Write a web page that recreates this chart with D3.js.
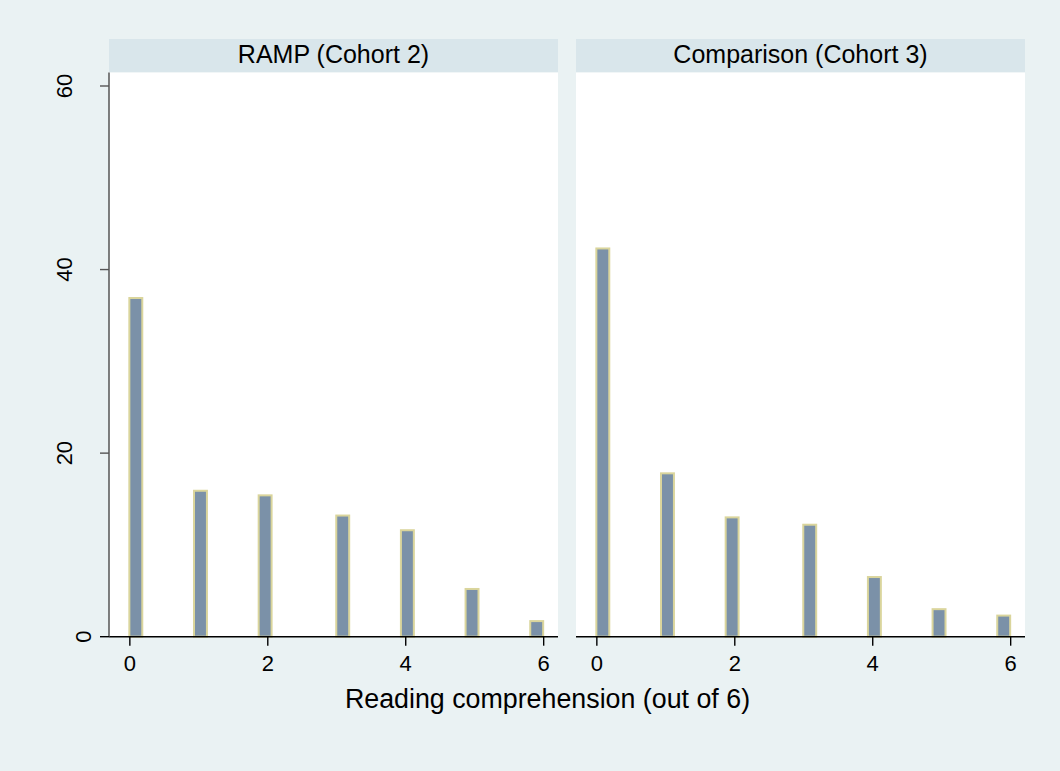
<!DOCTYPE html>
<html>
<head>
<meta charset="utf-8">
<script src="https://cdn.jsdelivr.net/npm/d3@7"></script>
<style>
  html, body { margin: 0; padding: 0; background: #eaf2f3; }
  svg { display: block; font-family: "Liberation Sans", Arial, Helvetica, sans-serif; }
</style>
</head>
<body>
<svg id="chart" width="1060" height="771"></svg>
<script>
// Reading comprehension score (0-6) and percent of pupils at each score
const scores = [0, 1, 2, 3, 4, 5, 6];
const rampPct = [36.9, 15.9, 15.4, 13.2, 11.6, 5.2, 1.7];
const comparisonPct = [42.3, 17.8, 13.0, 12.2, 6.5, 3.0, 2.3];
const panelTitles = ["RAMP (Cohort 2)", "Comparison (Cohort 3)"];
const xTickValues = [0, 2, 4, 6];
const yTickValues = [0, 20, 40, 60];
const xTitle = "Reading comprehension (out of 6)";

// histogram binning: 32 equal bins over the 0-6 score range
const scoreMin = 0, scoreMax = 6, binCount = 32;

const panels = [
  { title: panelTitles[0], values: rampPct, left: 109, right: 558, showY: true },
  { title: panelTitles[1], values: comparisonPct, left: 576, right: 1025, showY: false }
];

const stripTop = 39, stripBottom = 72.5, axisY = 636.7;
const xDomain = [-0.295, 6.215];
const yDomain = [0, 61.47];

const colors = {
  bg: "#eaf2f3",
  strip: "#d9e6eb",
  plot: "#ffffff",
  barFill: "#7b91a8",
  barStroke: "#dad59c",
  axis: "#000000",
  yAxis: "#555555",
  text: "#000000"
};

const svg = d3.select("#chart");
svg.append("rect").attr("width", 1060).attr("height", 771).attr("fill", colors.bg);

const y = d3.scaleLinear().domain(yDomain).range([axisY, stripBottom]);
const binWidth = (scoreMax - scoreMin) / binCount;

function binStart(v) {
  const idx = Math.min(Math.floor((v - scoreMin) / binWidth + 1e-9), binCount - 1);
  return scoreMin + idx * binWidth;
}

panels.forEach(p => {
  const x = d3.scaleLinear().domain(xDomain).range([p.left, p.right]);
  const g = svg.append("g");

  // strip header
  g.append("rect")
    .attr("x", p.left).attr("y", stripTop)
    .attr("width", p.right - p.left).attr("height", stripBottom - stripTop)
    .attr("fill", colors.strip);
  g.append("text")
    .attr("x", (p.left + p.right) / 2).attr("y", 63)
    .attr("text-anchor", "middle")
    .attr("font-size", 25)
    .attr("fill", colors.text)
    .text(p.title);

  // plot region
  g.append("rect")
    .attr("x", p.left).attr("y", stripBottom)
    .attr("width", p.right - p.left).attr("height", axisY - stripBottom)
    .attr("fill", colors.plot);

  // bars
  const data = scores.map((s, i) => ({ score: s, pct: p.values[i] }));
  g.append("g").selectAll("rect")
    .data(data)
    .join("rect")
    .attr("x", d => x(binStart(d.score)))
    .attr("width", d => x(binStart(d.score) + binWidth) - x(binStart(d.score)))
    .attr("y", d => y(d.pct))
    .attr("height", d => y(0) - y(d.pct))
    .attr("fill", colors.barFill)
    .attr("stroke", colors.barStroke)
    .attr("stroke-width", 2);

  // x axis
  const xAxis = d3.axisBottom(x).tickValues(xTickValues).tickSize(9).tickPadding(6).tickFormat(d3.format("d"));
  const xa = g.append("g").attr("transform", `translate(0,${axisY})`).call(xAxis);
  xa.select(".domain").remove();
  xa.selectAll(".tick line").attr("stroke", colors.axis).attr("stroke-width", 1.4);
  xa.selectAll(".tick text")
    .attr("font-size", 22).attr("font-family", null)
    .attr("fill", colors.text).attr("dy", null).attr("y", 34.5);
  g.append("line")
    .attr("x1", p.left).attr("x2", p.right)
    .attr("y1", axisY).attr("y2", axisY)
    .attr("stroke", colors.axis).attr("stroke-width", 1.5);

  // y axis (left panel only)
  if (p.showY) {
    g.append("line")
      .attr("x1", p.left).attr("x2", p.left)
      .attr("y1", stripBottom).attr("y2", axisY)
      .attr("stroke", colors.yAxis).attr("stroke-width", 1.5);
    const yt = g.append("g").selectAll("g").data(yTickValues).join("g");
    yt.append("line")
      .attr("x1", p.left - 9).attr("x2", p.left)
      .attr("y1", d => y(d)).attr("y2", d => y(d))
      .attr("stroke", d => d === 0 ? colors.axis : colors.yAxis)
      .attr("stroke-width", 1.4);
    yt.append("text")
      .attr("font-size", 22)
      .attr("text-anchor", "middle")
      .attr("fill", colors.text)
      .text(d => d)
      .attr("transform", function (d) {
        const w = this.getComputedTextLength();
        const bx = p.left - 1.5 * w;
        return `translate(${bx},${y(d)}) rotate(-90)`;
      });
  }
});

// shared x-axis title
svg.append("text")
  .attr("x", 547.5).attr("y", 708)
  .attr("text-anchor", "middle")
  .attr("font-size", 26.8)
  .attr("fill", colors.text)
  .text(xTitle);
</script>
</body>
</html>
